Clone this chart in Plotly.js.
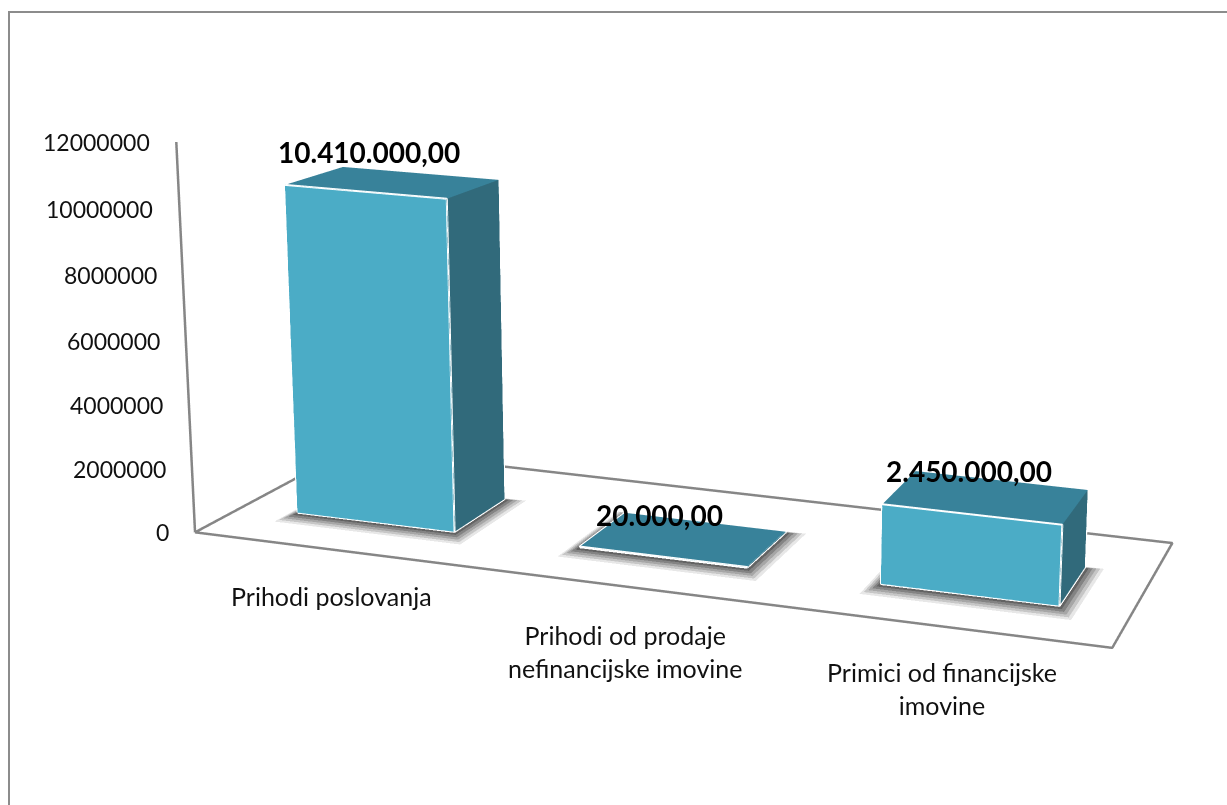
<!DOCTYPE html>
<html>
<head>
<meta charset="utf-8">
<script src="https://cdn.plot.ly/plotly-3.0.1.min.js"></script>
<style>
html,body{margin:0;padding:0;width:1227px;height:805px;overflow:hidden;background:#fff;}
#viewport{position:absolute;left:0;top:0;width:1227px;height:805px;overflow:hidden;}
#chart{position:absolute;left:-33px;top:-709px;width:2200px;height:1840px;}
#frame{position:absolute;left:8px;top:11px;width:1300px;height:900px;border:2px solid #8c8c8c;pointer-events:none;}
</style>
</head>
<body>
<div id="viewport"><div id="chart"></div><div id="frame"></div></div>
<script>
// Data
const categories = ["Prihodi poslovanja", "Prihodi od prodaje<br>nefinancijske imovine", "Primici od financijske<br>imovine"];
const values = [10410000, 20000, 2450000];
const valueLabels = ["10.410.000,00", "20.000,00", "2.450.000,00"];
const tickValues = [0, 2000000, 4000000, 6000000, 8000000, 10000000, 12000000];

// Styles and geometry
const barHalfWidth = 0.285, depthFront = 0.29, depthBack = 0.66;
const FRONT = "#4bacc6", TOP = "#38829a", SIDE = "#316a7b", GREY = "#868686";
const zMax = 12000000, zPad = 240000;
const barCentre = i => i * 1.01 - 0.02;
const frameLeft = -0.503, frameRight = 2.508;
const catShiftX = [-4, -5, -2], catShiftY = [-46, -64, -62];
const valShiftX = [-69, -58, -39], valShiftY = [18, 0, 2];
const shadowLayers = [[0.05, 0.12], [0.04, 0.18], [0.03, 0.22], [0.02, 0.3], [0.01, 0.4]];
const flat = {ambient: 1, diffuse: 0, specular: 0, roughness: 1, fresnel: 0};

function bar(i, v) {
  const c = barCentre(i), x0 = c - barHalfWidth, x1 = c + barHalfWidth, y0 = depthFront, y1 = depthBack;
  return {
    type: "mesh3d",
    x: [x0, x1, x1, x0, x0, x1, x1, x0],
    y: [y0, y0, y1, y1, y0, y0, y1, y1],
    z: [0, 0, 0, 0, v, v, v, v],
    i: [0, 0, 4, 4, 1, 1],
    j: [1, 5, 5, 6, 2, 6],
    k: [5, 4, 6, 7, 6, 5],
    facecolor: [FRONT, FRONT, TOP, TOP, SIDE, SIDE],
    flatshading: true, lighting: flat,
    hoverinfo: "skip", showscale: false
  };
}
function edges(i, v) {
  const c = barCentre(i), a = c - barHalfWidth, b = c + barHalfWidth, f = depthFront, k = depthBack;
  return {
    type: "scatter3d", mode: "lines",
    x: [a, b, b, a, a, null, a, a, b, null, b, b, b],
    y: [f, f, f, f, f, null, f, k, k, null, f, k, k],
    z: [0, 0, v, v, 0, null, v, v, v, null, 0, 0, v],
    line: {color: "#ffffff", width: 4},
    hoverinfo: "skip", showlegend: false
  };
}
function shadow(i, grow, op) {
  const c = barCentre(i), a = c - barHalfWidth - grow, b = c + barHalfWidth + grow,
        f = depthFront - grow * 1.2, k = depthBack + grow * 1.2, h = -grow * 3000000 - 20000;
  return {
    type: "mesh3d",
    x: [a, b, b, a], y: [f, f, k, k], z: [h, h, h, h],
    i: [0, 0], j: [1, 2], k: [2, 3],
    color: "#333333", opacity: op, flatshading: true, lighting: flat,
    hoverinfo: "skip", showscale: false
  };
}
const axesFrame = {
  type: "scatter3d", mode: "lines",
  x: [frameLeft, frameLeft, null, frameLeft, frameRight, frameRight, frameLeft, frameLeft],
  y: [0, 0, null, 0, 0, 1, 1, 0],
  z: [0, zMax, null, 0, 0, 0, 0, 0],
  line: {color: GREY, width: 5},
  hoverinfo: "skip", showlegend: false
};

const traces = [axesFrame];
values.forEach((v, i) => {
  shadowLayers.forEach(s => traces.push(shadow(i, s[0], s[1])));
  traces.push(bar(i, v), edges(i, v));
});

const tickFont = {family: "Lato, sans-serif", size: 23, color: "#111111"};
const catFont = {family: "Lato, sans-serif", size: 25, color: "#111111"};
const annotations = [];
tickValues.forEach(t => annotations.push({
  x: frameLeft, y: 0, z: t, text: String(t), showarrow: false,
  xanchor: "right", yanchor: "middle", xshift: -24, font: tickFont
}));
categories.forEach((c, i) => annotations.push({
  x: i, y: 0, z: 0, text: c, showarrow: false,
  xanchor: "center", yanchor: "middle", xshift: catShiftX[i], yshift: catShiftY[i], font: catFont
}));
values.forEach((v, i) => annotations.push({
  x: i, y: 0.75, z: v, text: "<b>" + valueLabels[i] + "</b>", showarrow: false,
  xanchor: "center", yanchor: "middle", xshift: valShiftX[i], yshift: valShiftY[i],
  font: {family: "Lato, sans-serif", size: 28, color: "#000000"}
}));

const hidden = {visible: false, showgrid: false, zeroline: false, showline: false, showticklabels: false, showbackground: false, showspikes: false, title: {text: ""}};
const zShift = 0.715 * (zPad / 2) / zMax;
const layout = {
  width: 2200, height: 1840, autosize: false,
  margin: {l: 0, r: 0, t: 0, b: 0, pad: 0},
  paper_bgcolor: "#ffffff",
  showlegend: false,
  scene: {
    domain: {x: [0, 1], y: [0, 1]},
    dragmode: "orbit",
    bgcolor: "#ffffff",
    aspectmode: "manual",
    aspectratio: {x: 1.8016, y: 0.518, z: 0.715 * (zMax + zPad) / zMax},
    camera: {
      eye: {x: 1.532, y: -3.602, z: 1.068 + zShift},
      center: {x: 0.688, y: -0.002, z: 0.309 + zShift},
      up: {x: -0.079, y: 0.188, z: 0.979},
      projection: {type: "perspective"}
    },
    xaxis: Object.assign({range: [-0.6, 2.6]}, hidden),
    yaxis: Object.assign({range: [0, 1]}, hidden),
    zaxis: Object.assign({range: [-zPad, zMax]}, hidden),
    annotations: annotations
  }
};
Plotly.newPlot("chart", traces, layout, {displayModeBar: false});
</script>
</body>
</html>
